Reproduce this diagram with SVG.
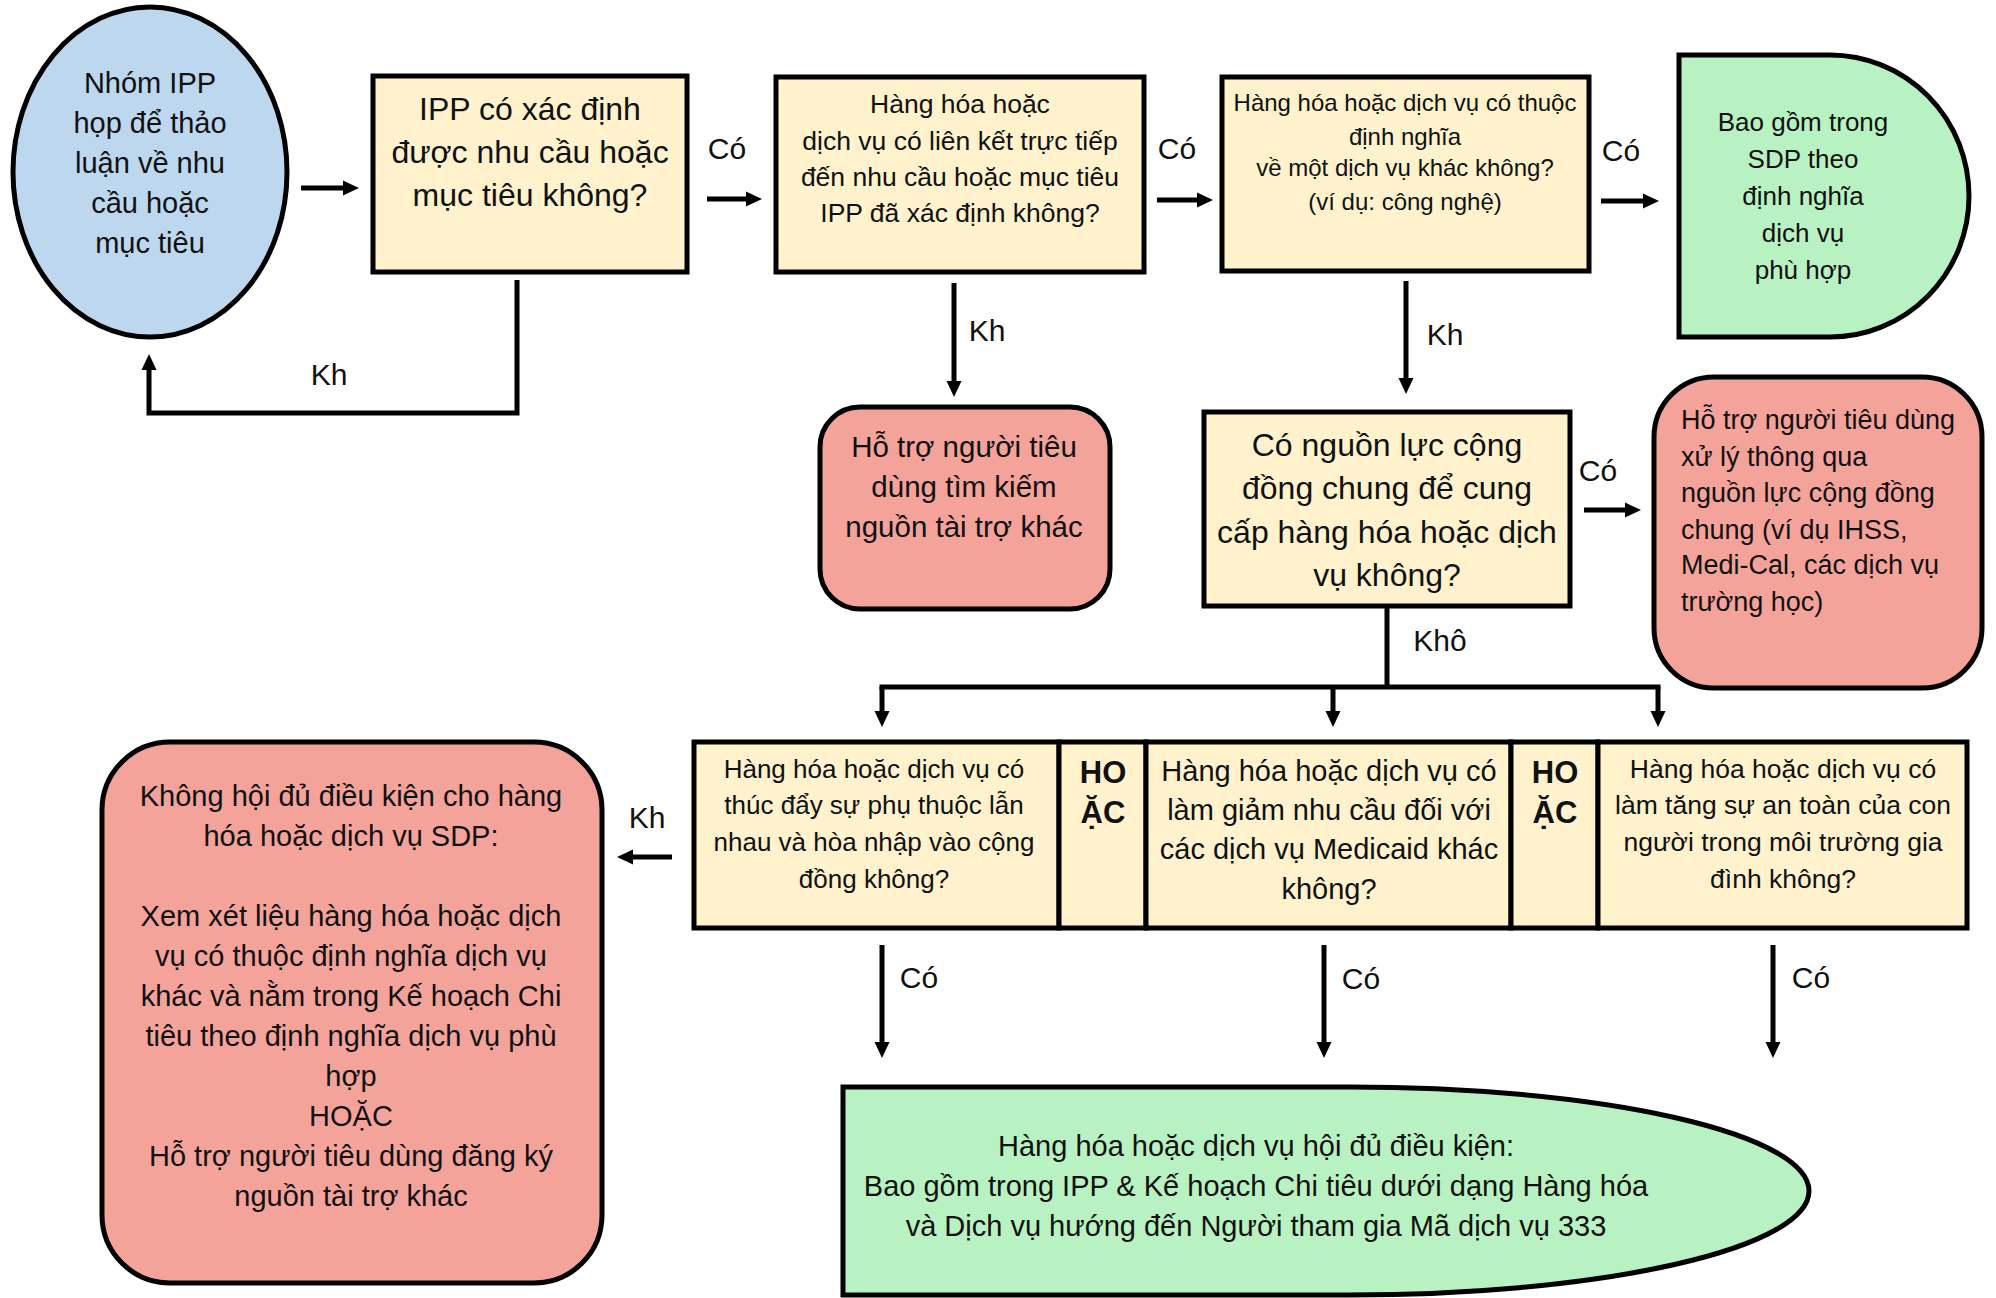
<svg xmlns="http://www.w3.org/2000/svg" width="1996" height="1298" viewBox="0 0 1996 1298">
<defs>
<style>
text{font-family:"Liberation Sans",Arial,"Noto Sans",sans-serif;fill:#111;}
.c{text-anchor:middle;}
.shape{stroke:#000;stroke-width:5;}
.yel{fill:#fff2cc;}
.blue{fill:#bdd7ee;}
.green{fill:#b8f2c2;}
.red{fill:#f4a39b;}
.conn path{fill:none;stroke:#000;stroke-width:5;marker-end:url(#ah);}
.conn path.plain{marker-end:none;}
.lbl{font-size:30px;}
.bold{font-weight:bold;}
</style>
<marker id="ah" markerUnits="userSpaceOnUse" markerWidth="16" markerHeight="16" viewBox="0 0 16 16" refX="8" refY="8" orient="auto">
<path d="M0,0.5 L16,8 L0,15.5 Z" fill="#000"/>
</marker>
</defs>
<rect width="1996" height="1298" fill="#fff"/>

<g id="n-start">
<ellipse class="shape blue" cx="150" cy="172" rx="137" ry="165"/>
<text class="c" x="150" font-size="29"><tspan x="150" y="93">Nhóm IPP</tspan><tspan x="150" y="133">họp để thảo</tspan><tspan x="150" y="173">luận về nhu</tspan><tspan x="150" y="213">cầu hoặc</tspan><tspan x="150" y="253">mục tiêu</tspan></text>
</g>

<g id="n-q1">
<rect class="shape yel" x="373" y="76" width="314" height="196"/>
<text class="c" font-size="32"><tspan x="530" y="120">IPP có xác định</tspan><tspan x="530" y="163">được nhu cầu hoặc</tspan><tspan x="530" y="206">mục tiêu không?</tspan></text>
</g>

<g id="n-q2">
<rect class="shape yel" x="776" y="77" width="368" height="195"/>
<text class="c" font-size="26.5"><tspan x="960" y="113">Hàng hóa hoặc</tspan><tspan x="960" y="150">dịch vụ có liên kết trực tiếp</tspan><tspan x="960" y="186">đến nhu cầu hoặc mục tiêu</tspan><tspan x="960" y="222">IPP đã xác định không?</tspan></text>
</g>

<g id="n-q3">
<rect class="shape yel" x="1222" y="77" width="367" height="194"/>
<text class="c" font-size="24"><tspan x="1405" y="111">Hàng hóa hoặc dịch vụ có thuộc</tspan><tspan x="1405" y="145">định nghĩa</tspan><tspan x="1405" y="176">về một dịch vụ khác không?</tspan><tspan x="1405" y="210">(ví dụ: công nghệ)</tspan></text>
</g>

<g id="n-sdp">
<path class="shape green" d="M1679,55 H1830 A139,141 0 0 1 1830,337 H1679 Z"/>
<text class="c" font-size="26"><tspan x="1803" y="131">Bao gồm trong</tspan><tspan x="1803" y="168">SDP theo</tspan><tspan x="1803" y="205">định nghĩa</tspan><tspan x="1803" y="242">dịch vụ</tspan><tspan x="1803" y="279">phù hợp</tspan></text>
</g>

<g id="n-other-funding">
<rect class="shape red" x="820" y="407" width="290" height="202" rx="40" ry="40"/>
<text class="c" font-size="29.5"><tspan x="964" y="457">Hỗ trợ người tiêu</tspan><tspan x="964" y="497">dùng tìm kiếm</tspan><tspan x="964" y="537">nguồn tài trợ khác</tspan></text>
</g>

<g id="n-q4">
<rect class="shape yel" x="1204" y="412" width="366" height="194"/>
<text class="c" font-size="32"><tspan x="1387" y="456">Có nguồn lực cộng</tspan><tspan x="1387" y="499">đồng chung để cung</tspan><tspan x="1387" y="543">cấp hàng hóa hoặc dịch</tspan><tspan x="1387" y="586">vụ không?</tspan></text>
</g>

<g id="n-community">
<rect class="shape red" x="1654" y="377" width="328" height="311" rx="60" ry="60"/>
<text font-size="27"><tspan x="1681" y="429">Hỗ trợ người tiêu dùng</tspan><tspan x="1681" y="466">xử lý thông qua</tspan><tspan x="1681" y="502">nguồn lực cộng đồng</tspan><tspan x="1681" y="539">chung (ví dụ IHSS,</tspan><tspan x="1681" y="574">Medi-Cal, các dịch vụ</tspan><tspan x="1681" y="611">trường học)</tspan></text>
</g>

<g id="n-criteria1">
<rect class="shape yel" x="694" y="742" width="365" height="186"/>
<text class="c" font-size="26"><tspan x="874" y="778">Hàng hóa hoặc dịch vụ có</tspan><tspan x="874" y="814">thúc đẩy sự phụ thuộc lẫn</tspan><tspan x="874" y="851">nhau và hòa nhập vào cộng</tspan><tspan x="874" y="888">đồng không?</tspan></text>
</g>

<g id="n-or1">
<rect class="shape yel" x="1059" y="742" width="87" height="186"/>
<text class="c bold" font-size="31"><tspan x="1103" y="783">HO</tspan><tspan x="1103" y="823">ẶC</tspan></text>
</g>

<g id="n-criteria2">
<rect class="shape yel" x="1146" y="742" width="365" height="186"/>
<text class="c" font-size="29"><tspan x="1329" y="781">Hàng hóa hoặc dịch vụ có</tspan><tspan x="1329" y="820">làm giảm nhu cầu đối với</tspan><tspan x="1329" y="859">các dịch vụ Medicaid khác</tspan><tspan x="1329" y="899">không?</tspan></text>
</g>

<g id="n-or2">
<rect class="shape yel" x="1511" y="742" width="87" height="186"/>
<text class="c bold" font-size="31"><tspan x="1555" y="783">HO</tspan><tspan x="1555" y="823">ẶC</tspan></text>
</g>

<g id="n-criteria3">
<rect class="shape yel" x="1598" y="742" width="369" height="186"/>
<text class="c" font-size="26.5"><tspan x="1783" y="778">Hàng hóa hoặc dịch vụ có</tspan><tspan x="1783" y="814">làm tăng sự an toàn của con</tspan><tspan x="1783" y="851">người trong môi trường gia</tspan><tspan x="1783" y="888">đình không?</tspan></text>
</g>

<g id="n-not-eligible">
<rect class="shape red" x="102" y="742" width="500" height="541" rx="68" ry="68"/>
<text class="c" font-size="29"><tspan x="351" y="806">Không hội đủ điều kiện cho hàng</tspan><tspan x="351" y="846">hóa hoặc dịch vụ SDP:</tspan><tspan x="351" y="926">Xem xét liệu hàng hóa hoặc dịch</tspan><tspan x="351" y="966">vụ có thuộc định nghĩa dịch vụ</tspan><tspan x="351" y="1006">khác và nằm trong Kế hoạch Chi</tspan><tspan x="351" y="1046">tiêu theo định nghĩa dịch vụ phù</tspan><tspan x="351" y="1086">hợp</tspan><tspan x="351" y="1126">HOẶC</tspan><tspan x="351" y="1166">Hỗ trợ người tiêu dùng đăng ký</tspan><tspan x="351" y="1206">nguồn tài trợ khác</tspan></text>
</g>

<g id="n-eligible">
<path class="shape green" d="M843,1087 H1350 A459,104 0 0 1 1350,1295 H843 Z"/>
<text class="c" font-size="29"><tspan x="1256" y="1156">Hàng hóa hoặc dịch vụ hội đủ điều kiện:</tspan><tspan x="1256" y="1196">Bao gồm trong IPP &amp; Kế hoạch Chi tiêu dưới dạng Hàng hóa</tspan><tspan x="1256" y="1236">và Dịch vụ hướng đến Người tham gia Mã dịch vụ 333</tspan></text>
</g>

<g id="connectors" class="conn">
<path d="M301,188 H351"/>
<path d="M517,280 V413 H149 V362"/>
<path d="M707,199 H754"/>
<path d="M1157,200 H1205"/>
<path d="M1601,201 H1651"/>
<path d="M954,283 V389"/>
<path d="M1406,281 V386"/>
<path d="M1584,510 H1633"/>
<path class="plain" d="M1387,607 V687"/>
<path class="plain" d="M879.5,687 H1660.5"/>
<path d="M882,687 V719"/>
<path d="M1333,687 V719"/>
<path d="M1658,687 V719"/>
<path d="M672,857 H625"/>
<path d="M882,945 V1050"/>
<path d="M1324,945 V1050"/>
<path d="M1773,945 V1050"/>
</g>

<g id="labels" class="lbl">
<text class="c" x="329" y="385">Kh</text>
<text class="c" x="727" y="159">Có</text>
<text class="c" x="1177" y="159">Có</text>
<text class="c" x="1621" y="161">Có</text>
<text class="c" x="987" y="341">Kh</text>
<text class="c" x="1445" y="345">Kh</text>
<text class="c" x="1598" y="481">Có</text>
<text class="c" x="1440" y="651">Khô</text>
<text class="c" x="647" y="828">Kh</text>
<text class="c" x="919" y="988">Có</text>
<text class="c" x="1361" y="989">Có</text>
<text class="c" x="1811" y="988">Có</text>
</g>
</svg>
